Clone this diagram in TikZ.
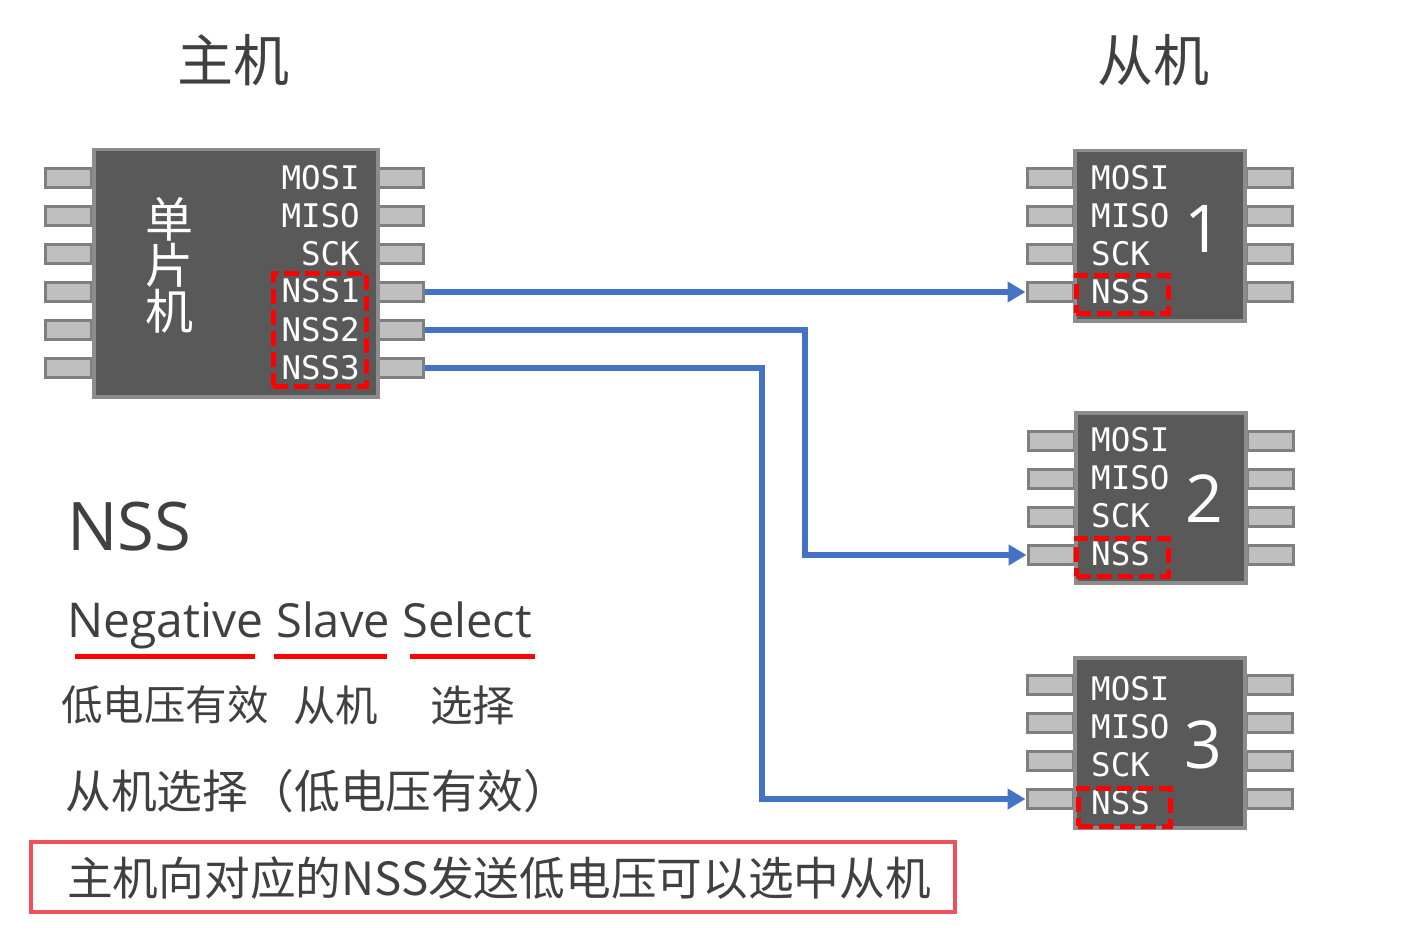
\documentclass[tikz,border=0pt]{standalone}
\usepackage{fontspec}
\setmainfont{Noto Sans CJK SC}
\newfontfamily\pinfont{DejaVu Sans Mono}
\newfontfamily\latfont{Open Sans}
\usetikzlibrary{arrows.meta,calc}
\definecolor{chipfill}{HTML}{595959}
\definecolor{chipline}{HTML}{8C8C8C}
\definecolor{pinfill}{HTML}{BFBFBF}
\definecolor{pinline}{HTML}{7F7F7F}
\definecolor{wire}{HTML}{4472C4}
\definecolor{txt}{HTML}{404040}
\definecolor{hl}{HTML}{FF0000}
\definecolor{boxred}{HTML}{F0505A}
\tikzset{
  chip/.style={draw=chipline,fill=chipfill,line width=3.5pt,inner sep=0,minimum width=#1,anchor=north west},
  pinbox/.style={draw=pinline,fill=pinfill,line width=3pt,inner sep=0,minimum width=46pt,minimum height=19pt},
  pinlabel/.style={text=white,inner sep=0,font=\pinfont\fontsize{32.5}{32.5}\selectfont},
  chiplabel/.style={text=white,inner sep=0,font=\fontsize{48}{48}\selectfont},
  numlabel/.style={text=white,inner sep=0,font=\latfont\fontsize{66}{66}\selectfont},
  redbox/.style={draw=hl,line width=4.5pt,dash pattern=on 15pt off 6pt,inner sep=0,anchor=north west},
  title/.style={text=txt,inner sep=0,font=\fontsize{56}{56}\selectfont},
  body/.style={text=txt,inner sep=0,anchor=west,font=\fontsize{42.5}{42.5}\selectfont},
  link/.style={draw=wire,line width=6pt,-{Triangle[length=18pt,width=20pt]}},
  under/.style={draw=hl,line width=5pt},
}
\begin{document}
\begin{tikzpicture}[x=1pt,y=1pt]
\useasboundingbox (0,0) rectangle (1412,-944);
\node[title] (t1) at (233.5,-60) {主机};
\node[title] (t2) at (1153.5,-60) {从机};
% master pins
\foreach \i/\y in {1/178,2/216,3/254,4/292,5/330,6/368}{
  \node[pinbox] (ml\i) at (68,-\y) {};
  \node[pinbox] (mr\i) at (400,-\y) {};
}
\node[chip=284pt,minimum height=247pt] (master) at (92,-148) {};
\node[chiplabel] (m1) at (169,-219) {单};
\node[chiplabel] (m2) at (169,-265) {片};
\node[chiplabel] (m3) at (169,-311) {机};
\foreach \n/\y/\t in {a/178/MOSI,b/216/MISO,c/254/SCK,d/291/NSS1,e/330/NSS2,f/368/NSS3}{
  \node[pinlabel,anchor=east] (ml\n) at (360,-\y) {\t};
}
\node[redbox,minimum width=93pt,minimum height=113pt] (mred) at (271,-271) {};
% slaves
\foreach \s/\cx/\top/\ya/\yb/\yc/\yd/\num/\ty/\ny/\rx/\ry in {1/1074/150/178/216/254/292/1/0/229/1074/273,2/1075/412/441/479/517/555/2/-1/499/1074/536,3/1074/657/685/723/761/799/3/4/745/1076/786}{
  \foreach \i/\y in {1/\ya,2/\yb,3/\yc,4/\yd}{
    \node[pinbox] (s\s l\i) at (\cx-24,-\y) {};
    \node[pinbox] (s\s r\i) at (\cx+195,-\y) {};
  }
  \node[chip=170pt,minimum height=170pt] (slave\s) at (\cx-1,-\top+1) {};
  \node[pinlabel,anchor=west] (s\s a) at (1091,-\ya-\ty) {MOSI};
  \node[pinlabel,anchor=west] (s\s b) at (1091,-\yb-\ty) {MISO};
  \node[pinlabel,anchor=west] (s\s c) at (1091,-\yc-\ty) {SCK};
  \node[pinlabel,anchor=west] (s\s d) at (1091,-\yd-\ty) {NSS};
  \node[redbox,minimum width=92pt,minimum height=38pt] (s\s red) at (\rx,-\ry) {};
  \node[numlabel] (s\s num) at (\cx+129,-\ny) {\num};
}
% connectors
\path[link] (mr4.east) -- (s1l4.west);
\path[link] (mr5.east) -| ($(s2l4.west)+(-222,0)$) -- (s2l4.west);
\path[link] (mr6.east) -| ($(s3l4.west)+(-264,0)$) -- (s3l4.west);
% text
\node[inner sep=0,anchor=base west,text=txt,font=\latfont\fontsize{67}{67}\selectfont] (nss) at (67,-550) {NSS};
\node[inner sep=0,anchor=base west,text=txt,font=\latfont\fontsize{48}{48}\selectfont] (neg) at (67,-637) {Negative};
\node[inner sep=0,anchor=base west,text=txt,font=\latfont\fontsize{47}{47}\selectfont] (sla) at (276,-637) {Slave};
\node[inner sep=0,anchor=base west,text=txt,font=\latfont\fontsize{47}{47}\selectfont] (sel) at (402,-637) {Select};
\coordinate (u1a) at (75,-656); \coordinate (u1b) at (255,-656);
\coordinate (u2a) at (274,-656); \coordinate (u2b) at (387,-656);
\coordinate (u3a) at (410,-656); \coordinate (u3b) at (535,-656);
\draw[under] (u1a) -- (u1b);
\draw[under] (u2a) -- (u2b);
\draw[under] (u3a) -- (u3b);
\node[body,font=\fontsize{41.5}{41.5}\selectfont] (low) at (61,-705) {低电压有效};
\node[body] (cong) at (293,-705) {从机};
\node[body] (xz) at (430,-705) {选择};
\node[inner sep=0,anchor=west,text=txt,font=\fontsize{45.8}{45.8}\selectfont] (sum) at (65,-791) {从机选择（低电压有效）};
\node[draw=boxred,line width=3.5pt,minimum width=924pt,minimum height=70pt,inner sep=0,anchor=north west] (frame) at (29,-840) {};
\node[inner sep=0,anchor=west,text=txt,font=\fontsize{45.7}{45.7}\selectfont] (main) at (67,-878) {主机向对应的NSS发送低电压可以选中从机};
\end{tikzpicture}
\end{document}
